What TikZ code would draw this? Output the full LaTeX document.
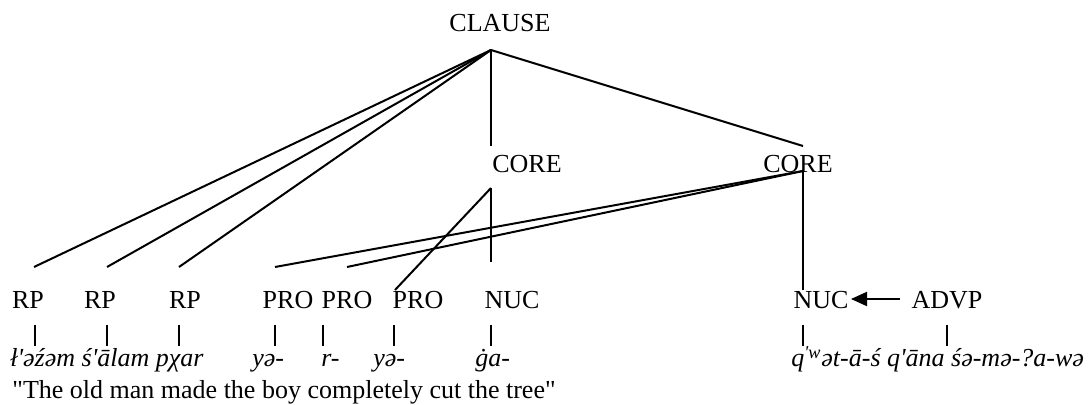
\documentclass[tikz,border=0pt]{standalone}
\usepackage{fontspec}
\setmainfont{Liberation Serif}[Ligatures=TeXOff]
\usetikzlibrary{arrows.meta}
\newcommand{\ap}{\symbol{39}}
\begin{document}
\begin{tikzpicture}[x=0.5pt,y=-0.5pt,
  lbl/.style={inner sep=0pt,anchor=base,font=\fontsize{13pt}{15pt}\selectfont},
  word/.style={inner sep=0pt,anchor=base west,font=\fontsize{13pt}{15pt}\selectfont\itshape},
  gloss/.style={inner sep=0pt,anchor=base west,font=\fontsize{13pt}{15pt}\selectfont},
  edge/.style={line width=1pt,line cap=butt}]
\useasboundingbox (0,0) rectangle (1092,405);
% labels
\node[lbl] (clause) at (500,32) {CLAUSE};
\node[lbl] (core1) at (527,173) {CORE};
\node[lbl] (core2) at (798,173) {CORE};
\node[lbl] (rp1) at (28,309) {RP};
\node[lbl] (rp2) at (100,309) {RP};
\node[lbl] (rp3) at (185,309) {RP};
\node[lbl] (pro1) at (288,309) {PRO};
\node[lbl] (pro2) at (347,309) {PRO};
\node[lbl] (pro3) at (418,309) {PRO};
\node[lbl] (nuc1) at (512,309) {NUC};
\node[lbl] (nuc2) at (821,309) {NUC};
\node[lbl] (advp) at (947,309) {ADVP};
% words
\node[word] (w1) at (10,367) {ł\ap əźəm ś\ap ālam pχar};
\node[word] (w2) at (252,367) {yə-};
\node[word] (w3) at (321,367) {r-};
\node[word] (w4) at (373,367) {yə-};
\node[word] (w5) at (475,367) {ġa-};
\node[word] (w6) at (791,367) {q\textsuperscript{\ap w}ət-ā-ś q\ap āna śə-mə-?a-wə};
\node[gloss] (tr) at (12,399) {"The old man made the boy completely cut the tree"};
% connector points
\coordinate (clA) at (491,50);
\coordinate (c1T) at (491,146);
\coordinate (c2T) at (803,146);
\coordinate (rp1T) at (34,267);
\coordinate (rp2T) at (107,267);
\coordinate (rp3T) at (179,267);
\coordinate (c2A) at (803,171);
\coordinate (pro1T) at (275,267);
\coordinate (pro2T) at (347,267);
\coordinate (nuc2T) at (803,290);
\coordinate (c1A) at (491,188);
\coordinate (nuc1T) at (491,262);
\coordinate (pro3T) at (395,290);
\draw[edge] (clA) -- (c1T);
\draw[edge] (clA) -- (c2T);
\draw[edge] (clA) -- (rp1T);
\draw[edge] (clA) -- (rp2T);
\draw[edge] (clA) -- (rp3T);
\draw[edge] (c2A) -- (pro1T);
\draw[edge] (c2A) -- (pro2T);
\draw[edge] (c2A) -- (nuc2T);
\draw[edge] (c1A) -- (nuc1T);
\draw[edge] (c1A) -- (pro3T);
% bars
\foreach \n/\x in {rp1/35,rp2/107,rp3/179,pro1/275,pro2/323,pro3/394,nuc1/491,nuc2/803,advp/947}{
  \coordinate (\n b1) at (\x,325);
  \coordinate (\n b2) at (\x,346);
  \draw[edge] (\n b1) -- (\n b2);
}
% arrow
\coordinate (advpL) at (900,299);
\coordinate (nuc2R) at (851,299);
\draw[edge,-{Triangle[length=8pt,width=7pt]}] (advpL) -- (nuc2R);
\end{tikzpicture}
\end{document}
